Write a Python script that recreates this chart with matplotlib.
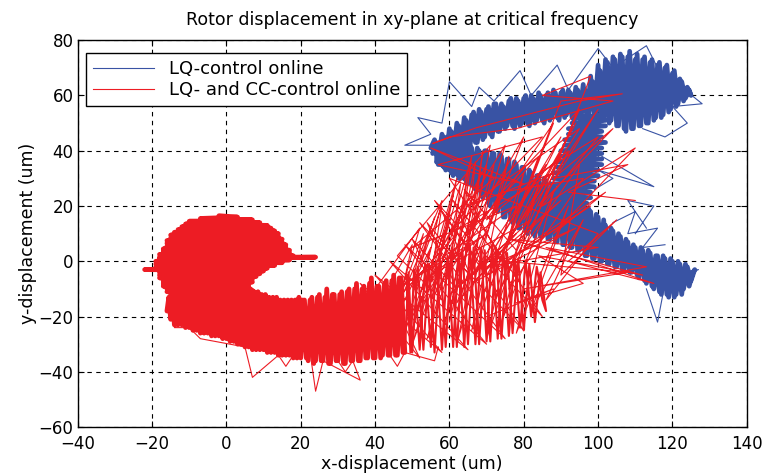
import numpy as np
import matplotlib
matplotlib.use("Agg")
import matplotlib.pyplot as plt

plt.rcParams['font.family'] = ['DejaVu Sans']

# ---- LQ-control online (blue) ----
# dense part of the orbit (sweeps across the thick bands)
blue_top = [(55,41),(56,44),(57,37),(58,46),(59,36),(60,48),(61,37),(62,50),(63,39),(64,52),
            (65,40),(66,53),(67,43),(68,55),(69,44),(70,55),(71,46),(72,57),(73,47),(74,57),
            (75,48),(76,58),(77,49),(78,59),(79,49),(80,59),(81,50),(82,60),(83,50),(84,61),
            (85,51),(86,60),(87,51),(88,62),(89,52),(90,61),(91,52),(92,62),(93,52),(94,63),
            (95,52),(96,64),(97,52),(98,67)]
blue_blob = [(99,53),(100,71),(101,51),(102,73),(103,50),(104,74),(105,49),(106,75),(107,48),
             (108,74),(109,48),(110,73),(111,49),(112,73),(113,50),(114,72),(115,51),(116,71),
             (117,52),(118,70),(119,54),(120,68),(121,56),(122,66),(123,58),(124,63),(125,60),
             (124.5,62),(123.5,59),(122.5,65),(121.5,57),(120.5,69),(119.5,55),(118.5,71),
             (117.5,53),(116.5,72),(115.5,52),(114.5,73),(113.5,50),(112.5,74),(111.5,49),
             (110.5,75),(109.5,48),(108.5,76),(107.5,47),(106.5,74),(105.5,49),(104.5,73),
             (103.5,51),(102.5,72),(101.5,52),(100.5,69),(99.5,53),(98.5,65),(97.5,53)]
blue_top_back = [(96.5,62),(95.5,53),(94.5,62),(93.5,51),(92.5,61),(91.5,53),(90.5,62),(89.5,51),
                 (88.5,61),(87.5,52),(86.5,61),(85.5,50),(84.5,60),(83.5,51),(82.5,59),(81.5,49),
                 (80.5,60),(79.5,50),(78.5,58),(77.5,48),(76.5,59),(75.5,49),(74.5,56),(73.5,47),
                 (72.5,57),(71.5,45),(70.5,56),(69.5,45),(68.5,54),(67.5,43),(66.5,54),(65.5,41),
                 (64.5,51),(63.5,40),(62.5,49),(61.5,38),(60.5,47),(59.5,36),(58.5,45),(57.5,37),
                 (56.5,43),(55.5,39)]
blue_diag = [(56,42),(57,35),(58,44),(59,33),(60,44),(61,31),(62,43),(63,30),(64,42),(65,28),
             (66,41),(67,26),(68,40),(69,23),(70,40),(71,20),(72,39),(73,18),(74,38),(75,16),
             (76,37),(77,14),(78,35),(79,12),(80,34),(81,10),(82,32),(83,9),(84,31),(85,9),
             (86,29),(87,8),(88,28),(89,7),(90,26),(91,6),(92,25),(93,5),(94,23),(95,4),
             (96,21),(97,2),(98,18),(99,1),(100,16),(101,0),(102,13),(103,-1),(104,11),(105,-2),
             (106,9),(107,-3),(108,7),(109,-4),(110,5),(111,-6),(112,4),(113,-8),(114,3),(115,-10),
             (116,2),(117,-12),(118,1),(119,-13),(120,0),(121,-12),(122,-1),(123,-10),(124,-2),
             (125,-7),(126,-3)]
blue_diag_back = [(125.5,-4),(124.5,-9),(123.5,-1),(122.5,-12),(121.5,0),(120.5,-13),(119.5,1),
                  (118.5,-12),(117.5,2),(116.5,-11),(115.5,2),(114.5,-9),(113.5,4),(112.5,-7),
                  (111.5,5),(110.5,-5),(109.5,6),(108.5,-4),(107.5,8),(106.5,-3),(105.5,10),
                  (104.5,-2),(103.5,12),(102.5,-1),(101.5,15),(100.5,0),(99.5,17),(98.5,1),
                  (97.5,19),(96.5,2),(95.5,22),(94.5,4),(93.5,24),(92.5,5),(91.5,25),(90.5,6),
                  (89.5,27),(88.5,7),(87.5,28),(86.5,8),(85.5,30),(84.5,9),(83.5,31),(82.5,10),
                  (81.5,33),(80.5,11),(79.5,34),(78.5,12),(77.5,36),(76.5,15),(75.5,37),(74.5,16),
                  (73.5,39),(72.5,19),(71.5,39),(70.5,21),(69.5,40),(68.5,24),(67.5,41),(66.5,27),
                  (65.5,42),(64.5,29),(63.5,43),(62.5,30),(61.5,44),(60.5,32),(59.5,45),(58.5,34),
                  (57.5,43),(56.5,36)]
blue_vert = [(86,12),(95,13),(86,14),(96,15),(87,16),(96,17),(87,18),(97,19),(87,20),(97,21),
             (87,22),(98,23),(87,24),(98,25),(88,26),(99,27),(88,28),(99,29),(88,30),(100,31),
             (88,32),(100,33),(89,34),(101,35),(89,36),(101,37),(90,38),(101,39),(90,40),(101,41),
             (91,42),(102,43),(91,44),(101,45),(92,46),(101,47),(92,48),(102,49),(93,50),(102,51),
             (94,52),(103,53)]
# sparse excursions
blue_spk_top = [(56,42),(48,42),(55,46),(51.5,52),(58,50),(60,65),(66,56),(68,63),(72,58),(79,69),
                (82,60),(89,71),(92,62),(100,77),(104,70),(113,78),(116,70),(128,57),(120,56),
                (124,50),(118,45),(112,48)]
blue_spk_mid = [(101,38),(115,27),(100,33),(104,30),(99,26)]
blue_spk_low = [(110,10),(115,20),(108,22),(113,12)]
blue_spk_diag = [(104,14),(110,18),(108,10),(116,12),(112,5),(118,6)]
blue_spk_tip = [(122,-4),(127,-3),(121,-7),(118,-8),(116,-22),(113,-10)]

# ---- LQ- and CC-control online (red) ----
red_blob = [(-2,16.5),(3,16),(-7,15.5),(7,15),(-10,14.5),(9,14),(-11,13.5),(11,13),(-12,12.5),
            (12,12),(-13,11.5),(13,11),(-14,10.5),(14,10),(-15,9.5),(14,9),(-15,8.5),(15,8),
            (-16,7.5),(15,7),(-16,6.5),(16,6),(-16,5.5),(16,5),(-17,4.5),(17,4),(-17,3.5),(17,3),
            (-18,2.5),(18,2),(-18,1.5),(24,1.5),(-18,1),(17,0.5),(-19,0),(15,-0.5),(-19,-1),
            (13,-1.5),(-19,-2),(11,-2.5),(-22,-3),(10,-3.5),(-18,-4),(9,-4.5),(-18,-5),(8,-5.5),
            (-18,-6),(7,-6.5),(-17,-7),(7,-7.5),(-17,-8),(6,-8.5),(-17,-9),(6,-9.5),(-16,-10),
            (7,-10.5),(-16,-11),(8,-11.5),(-15,-12),(10,-12.5),(-15,-13),(12,-13.5)]
red_band_a = [(-16,-18),(-15.5,-13),(-15,-21),(-14.5,-13),(-14,-23),(-13.5,-13),(-13,-23),
              (-12.5,-13),(-12,-23),(-11.5,-12),(-11,-24),(-10.5,-13),(-10,-24),(-9.5,-12),
              (-9,-25),(-8.5,-13),(-8,-25),(-7.5,-12),(-7,-26),(-6.5,-13),(-6,-26),(-5.5,-12),
              (-5,-26),(-4.5,-13),(-4,-27),(-3.5,-12),(-3,-27),(-2.5,-13),(-2,-27),(-1.5,-12),
              (-1,-28),(-0.5,-12),(0,-28),(0.5,-12),(1,-29),(1.5,-11),(2,-29),(2.5,-11),(3,-30),
              (3.5,-11),(4,-30),(4.5,-10),(5,-31),(5.5,-10),(6,-31),(6.5,-10),(7,-32),(7.5,-11),
              (8,-32),(8.5,-11),(9,-32),(9.5,-12),(10,-32),(10.5,-12),(11,-33),(11.5,-13),(12,-33),
              (12.5,-13),(13,-33),(13.5,-13),(14,-34),(14.5,-14),(15,-34),(15.5,-14),(16,-34),
              (16.5,-14),(17,-34),(17.5,-14),(18,-35),(18.5,-14),(19,-35),(19.5,-13),(20,-35),
              (21,-14),(22,-36),(23,-13),(24,-36),(25,-12),(26,-36),(27,-10),(28,-37),(29,-12),
              (30,-36),(31,-11),(32,-37),(33,-10),(34,-36),(35,-8),(36,-36),(37,-9),(38,-35),
              (39,-6),(40,-35),(41,-9),(42,-34),(43,-7),(44,-34),(45,-5),(46,-34),(47,-6),(48,-33)]
red_back_a = [(47.5,-33),(46.5,-6),(45.5,-34),(44.5,-7),(43.5,-34),
              (42.5,-8),(41.5,-35),(40.5,-9),(39.5,-35),(38.5,-8),(37.5,-35),(36.5,-10),
              (35.5,-36),(34.5,-10),(33.5,-36),(32.5,-11),(31.5,-37),(30.5,-12),(29.5,-36),
              (28.5,-12),(27.5,-37),(26.5,-13),(25.5,-36),(24.5,-13),(23.5,-37),(22.5,-14),
              (21.5,-35),(20.5,-14)]
red_band_b = [(48,-33),(49,-4),(50,-33),(51.5,-2),(53,-32),(54.5,-1),(56,-33),(57.5,1),(59,-31),
              (60.5,3),(62,-31),(63.5,4),(65,-30),(66.5,5),(68,-30),(69.5,4),(71,-29),(72.5,5),
              (74,-28),(75.5,3),(77,-26),(78.5,1),(80,-25),(81.5,-1),(83,-22),(84.5,-4),(86,-18),
              (85,-14),(83.5,-2),(82,-20),(80.5,0),(79,-24),(77.5,2),(76,-27),(74.5,4),
              (73,-28),(71.5,6),(70,-29),(68.5,5),(67,-30),(65.5,6),(64,-31),(62.5,3),
              (61,-31),(59.5,2),(58,-32),(56.5,0),(55,-31),(53.5,-2),(52,-32),(50.5,-3),
              (49.5,-33),(48.5,-5)]
# thin spikes sticking out of the dense part
red_spk_low = [(20.5,-14),(24,-47),(26,-36),(36,-43),(34,-36),(32,-40),(30,-36)]
red_spk_low2 = [(18,-34),(16,-38),(14,-34),(7,-42),(5,-31),(-7,-28),(-10,-24),(-14,-24),(-12,-22)]
red_spk_mid = [(44,-34),(46,-38),(48,-33),(56,-36),(57,-31)]
# crossing lines of the wide, thinner part
red_mesh = [(42,-30),(55,5),(46,-32),(60,15),(50,-30),(64,22),(54,-28),(68,30),(58,-26),(72,35),
            (62,-30),(76,38),(66,-25),(80,32),(70,-28),(84,28),(74,-22),(88,25),(78,-26),(92,20),
            (82,-18),(96,15),(86,-14),(100,10),(60,30),(85,-20),(56,22),(80,-25),(52,14),(75,-28),
            (48,6),(70,-30),(44,0),(65,-32),(40,-5),(58,-33),(36,-8),(52,-35),(45,-15),(62,10),
            (50,-20),(68,18),(56,-12),(74,25),(62,-15),(78,10),(66,-5),(86,35),(70,0),(90,45),
            (75,5),(94,50),(80,15),(100,55),(84,20),(104,48),(88,30),(108,35),(92,25),(110,22)]
red_mesh2 = [(44,-8),(50,6),(47,-12),(53,10),(50,-8),(56,16),(52,-2),(58,20),(55,-6),(61,24),
             (57,0),(63,28),(60,-4),(65,32),(62,2),(67,36),(64,-2),(69,40),(66,8),(71,42),
             (46,2),(58,-14),(50,8),(62,-10),(54,14),(66,-6),(58,18),(70,-4),(61,22),(74,0),
             (64,26),(78,4)]
red_sparse = [(40,-10),(52,12),(45,-20),(58,22),(50,-25),(62,30),(55,-15),(66,38),(60,-22),
              (70,35),(58,5),(75,42),(62,-18),(80,45),(65,10),(84,38),(68,-20),(88,50),(70,15),
              (92,40),(72,-15),(95,55),(74,25),(96,30),(76,-10),(98,67),(85,60),(104,58),(78,48),
              (60,45),(55.5,42.6),(67.4,48.4),(95,58),(106.5,60.6),(90,58),(82,30),(100,45),
              (85,20),(110,41),(88,10),(102,25),(80,5),(95,35),(90,-5),(105,15),(92,0),(115,-8),
              (86,5),(113,-2),(80,-10),(108,-4),(75,0),(98,20),(70,-5),(95,48),(65,20),(88,32),
              (60,10),(85,45),(57,35),(80,28),(55,41),(72,30),(50,5),(78,20),(46,-10),(70,10),
              (55,-5),(82,15),(60,-12),(90,22),(66,-8),(94,12),(70,-2),(100,5),(76,8),(112,-5),
              (84,2),(96,-8),(78,-15),(88,-10),(70,-20)]


def pieces(*parts):
    # separate polylines, broken by NaN rows
    rows = []
    for p in parts:
        rows += list(p) + [(np.nan, np.nan)]
    return np.array(rows, dtype=float)


blue_dense = pieces(blue_top + blue_blob + blue_top_back + blue_diag + blue_diag_back + blue_vert)
blue_thin = pieces(blue_spk_top, blue_spk_mid, blue_spk_low, blue_spk_diag, blue_spk_tip)
red_dense = pieces(red_blob + red_band_a + red_back_a)
red_medium = pieces(red_band_b)
red_thin = pieces(red_spk_low, red_spk_low2, red_spk_mid, red_mesh, red_mesh2, red_sparse)

blue_c = '#3953a4'
red_c = '#ed1c24'
thick = dict(lw=3.4, solid_joinstyle='round', solid_capstyle='round')

fig = plt.figure(figsize=(7.62, 4.73), dpi=100)
ax = fig.add_axes([0.102, 0.097, 0.878, 0.818])

ax.plot(blue_thin[:, 0], blue_thin[:, 1], color=blue_c, lw=0.8, label='LQ-control online')
ax.plot(blue_dense[:, 0], blue_dense[:, 1], color=blue_c, **thick)
ax.plot(red_dense[:, 0], red_dense[:, 1], color=red_c, **thick)
ax.plot(red_medium[:, 0], red_medium[:, 1], color=red_c, lw=1.5)
ax.plot(red_thin[:, 0], red_thin[:, 1], color=red_c, lw=0.8, label='LQ- and CC-control online')

ax.set_xlim(-40, 140)
ax.set_ylim(-60, 80)
ax.set_xticks(np.arange(-40, 141, 20))
ax.set_yticks(np.arange(-60, 81, 20))
ax.grid(True, color='black', linestyle=(0, (4, 4)), linewidth=0.8)
ax.tick_params(direction='in', top=True, right=True, labelsize=12, length=4, pad=3)
ax.tick_params(axis='x', pad=6)
for s in ax.spines.values():
    s.set_linewidth(1.0)

ax.set_title('Rotor displacement in xy-plane at critical frequency', fontsize=12.5, pad=11)
ax.set_xlabel('x-displacement (um)', fontsize=12.5, labelpad=1)
ax.set_ylabel('y-displacement (um)', fontsize=12.5, labelpad=1)

leg = ax.legend(loc='upper left', bbox_to_anchor=(8 / 669, 1 - 13 / 387), borderaxespad=0,
                fontsize=13, fancybox=False, framealpha=1, edgecolor='black',
                handlelength=3.4, handletextpad=0.8, labelspacing=0.15, borderpad=0.4)
leg.get_frame().set_linewidth(1.0)

fig.savefig('out.png', dpi=100)
